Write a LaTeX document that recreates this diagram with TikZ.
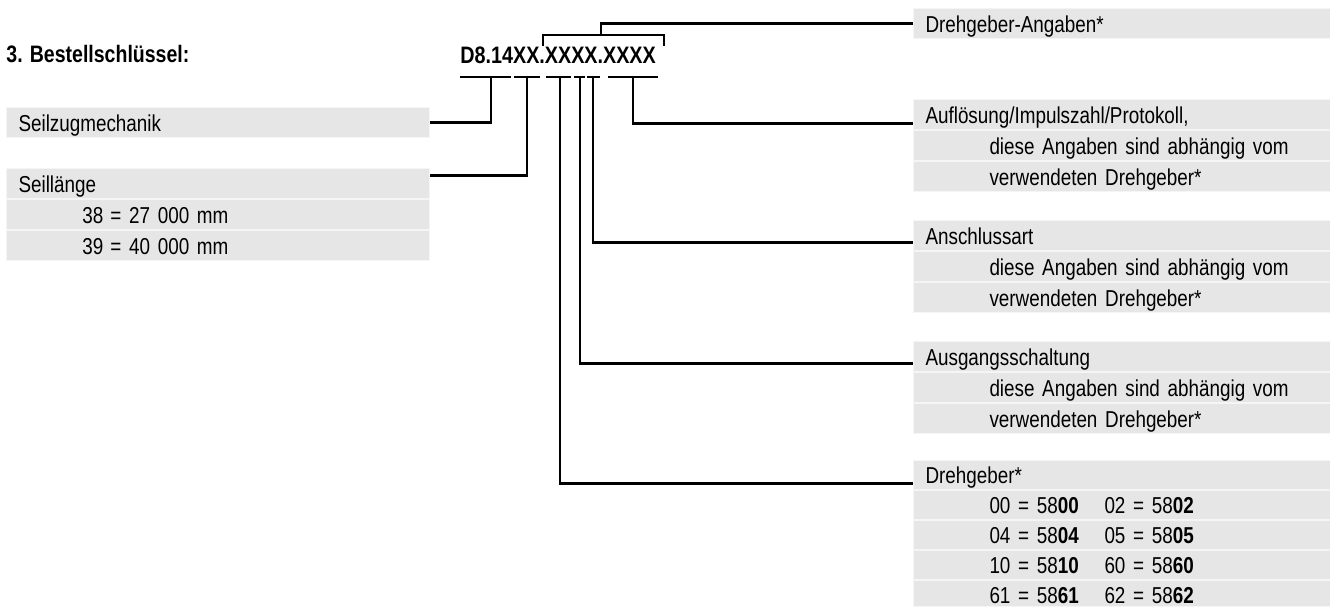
\documentclass[tikz,border=0pt]{standalone}
\usepackage{fontspec}
\setmainfont[FakeStretch=0.82]{Liberation Sans}
\newfontfamily\codefont[FakeStretch=0.83]{Liberation Sans}
\usetikzlibrary{positioning}
\definecolor{rowgray}{HTML}{E6E6E6}
\definecolor{rowsep}{HTML}{F5F5F5}
\tikzset{
  lrow/.style={fill=rowgray, draw=rowsep, line width=0.5pt, anchor=north west, inner xsep=6pt, inner ysep=0pt, text width=199.5pt, align=left, text height=12pt, text depth=3pt, font=\fontsize{11.5}{13}\selectfont},
  rrow/.style={lrow, text width=197.5pt},
  erow/.style={rrow, text height=11.5pt},
  lead/.style={line width=1.1pt},
  keyseg/.style={line width=1.1pt},
  ttl/.style={anchor=base west, inner sep=0pt, font=\fontsize{11.9}{14}\selectfont\bfseries},
  code/.style={anchor=base west, inner sep=0pt, font=\codefont\fontsize{11.9}{14}\selectfont\bfseries},
}
\newcommand{\ind}{\hspace*{32pt}}
\newcommand{\enc}[2]{\ind\makebox[57.5pt][l]{#1 = 58\textbf{#1}}#2 = 58\textbf{#2}}

\begin{document}
\begin{tikzpicture}[x=0.5pt,y=-0.5pt]
\useasboundingbox (0,0) rectangle (1330,607);
\node[ttl] (title) at (6,62) {3. Bestellschlüssel:};
\node[code] (key) at (460,63) {D8.14XX.XXXX.XXXX};
\draw[keyseg] (460,77) -- (511,77) (514,77) -- (540,77) (546,77) -- (571,77) (574,77) -- (585,77) (587,77) -- (600,77) (608,77) -- (658,77);
\draw[keyseg] (543,46) -- (543,35) -- (664,35) -- (664,46);
\coordinate (k1) at (491,77);
\coordinate (k2) at (527,77);
\coordinate (k3) at (560,77);
\coordinate (k4) at (580,77);
\coordinate (k5) at (593,77);
\coordinate (k6) at (633,77);
\coordinate (kb) at (601,35);
\node[lrow] (mech) at (6,107) {Seilzugmechanik};
\node[lrow] (len1) at (6,168) {Seillänge};
\node[lrow, below=0pt of len1] (len2) {\ind 38\hspace{3.5pt}= 27 000 mm};
\node[lrow, below=0pt of len2] (len3) {\ind 39\hspace{3.5pt}= 40 000 mm};
\node[rrow] (ang) at (913,8) {Drehgeber-Angaben*};
\node[rrow] (res1) at (913,99) {Auflösung/Impulszahl/Protokoll,};
\node[rrow, below=0pt of res1] (res2) {\ind diese Angaben sind abhängig vom};
\node[rrow, below=0pt of res2] (res3) {\ind verwendeten Drehgeber*};
\node[rrow] (con1) at (913,220) {Anschlussart};
\node[rrow, below=0pt of con1] (con2) {\ind diese Angaben sind abhängig vom};
\node[rrow, below=0pt of con2] (con3) {\ind verwendeten Drehgeber*};
\node[rrow] (out1) at (913,341) {Ausgangsschaltung};
\node[rrow, below=0pt of out1] (out2) {\ind diese Angaben sind abhängig vom};
\node[rrow, below=0pt of out2] (out3) {\ind verwendeten Drehgeber*};
\node[erow] (enc1) at (913,460) {Drehgeber*};
\node[erow, below=0pt of enc1] (enc2) {\enc{00}{02}};
\node[erow, below=0pt of enc2] (enc3) {\enc{04}{05}};
\node[erow, below=0pt of enc3] (enc4) {\enc{10}{60}};
\node[erow, below=0pt of enc4, text depth=1.5pt] (enc5) {\enc{61}{62}};
\draw[lead] (k1) |- (mech.east);
\draw[lead] (k2) |- ([yshift=4pt]len1.east);
\draw[lead] (kb) |- (ang.west);
\draw[lead] (k6) |- ([yshift=-4.5pt]res1.west);
\draw[lead] (k5) |- ([yshift=-3.5pt]con1.west);
\draw[lead] (k4) |- ([yshift=-3.5pt]out1.west);
\draw[lead] (k3) |- ([yshift=-4.25pt]enc1.west);
\end{tikzpicture}
\end{document}
